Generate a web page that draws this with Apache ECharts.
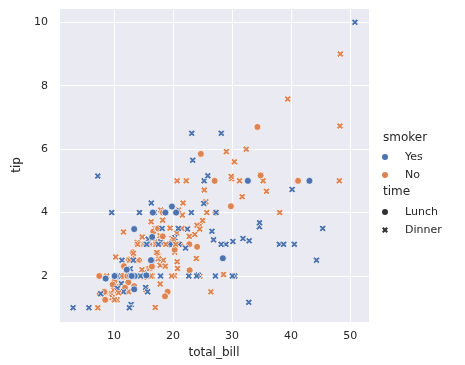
<!DOCTYPE html>
<html>
<head>
<meta charset="utf-8">
<script src="https://cdn.jsdelivr.net/npm/echarts@6/dist/echarts.min.js"></script>
<style>html,body{margin:0;padding:0;background:#fff;}#main{width:465px;height:365px;}</style>
</head>
<body>
<div id="main"></div>
<script>
const totalBill = [
16.99,10.34,21.01,23.68,24.59,25.29,8.77,26.88,15.04,14.78,
10.27,35.26,15.42,18.43,14.83,21.58,10.33,16.29,16.97,20.65,
17.92,20.29,15.77,39.42,19.82,17.81,13.37,12.69,21.70,19.65,
9.55,18.35,15.06,20.69,17.78,24.06,16.31,16.93,18.69,31.27,
16.04,17.46,13.94,9.68,30.40,18.29,22.23,32.40,28.55,18.04,
12.54,10.29,34.81,9.94,25.56,19.49,38.01,26.41,11.24,48.27,
20.29,13.81,11.02,18.29,17.59,20.08,16.45,3.07,20.23,15.01,
12.02,17.07,26.86,25.28,14.73,10.51,17.92,27.20,22.76,17.29,
19.44,16.66,10.07,32.68,15.98,34.83,13.03,18.28,24.71,21.16,
28.97,22.49,5.75,16.32,22.75,40.17,27.28,12.03,21.01,12.46,
11.35,15.38,44.30,22.42,20.92,15.36,20.49,25.21,18.24,14.31,
14.00,7.25,38.07,23.95,25.71,17.31,29.93,10.65,12.43,24.08,
11.69,13.42,14.26,15.95,12.48,29.80,8.52,14.52,11.38,22.82,
19.08,20.27,11.17,12.26,18.26,8.51,10.33,14.15,16.00,13.16,
17.47,34.30,41.19,27.05,16.43,8.35,18.64,11.87,9.78,7.51,
14.07,13.13,17.26,24.55,19.77,29.85,48.17,25.00,13.39,16.49,
21.50,12.66,16.21,13.81,17.51,24.52,20.76,31.71,10.59,10.63,
50.81,15.81,7.25,31.85,16.82,32.90,17.89,14.48,9.60,34.63,
34.65,23.33,45.35,23.17,40.55,20.69,20.90,30.46,18.15,23.10,
15.69,19.81,28.44,15.48,16.58,7.56,10.34,43.11,13.00,13.51,
18.71,12.74,13.00,16.40,20.53,16.47,26.59,38.73,24.27,12.76,
30.06,25.89,48.33,13.27,28.17,12.90,28.15,11.59,7.74,30.14,
12.16,13.42,8.58,15.98,13.42,16.27,10.09,20.45,13.28,22.12,
24.01,15.69,11.61,10.77,15.53,10.07,12.60,32.83,35.83,29.03,
27.18,22.67,17.82,18.78
];
const tip = [
1.01,1.66,3.50,3.31,3.61,4.71,2.00,3.12,1.96,3.23,
1.71,5.00,1.57,3.00,3.02,3.92,1.67,3.71,3.50,3.35,
4.08,2.75,2.23,7.58,3.18,2.34,2.00,2.00,4.30,3.00,
1.45,2.50,3.00,2.45,3.27,3.60,2.00,3.07,2.31,5.00,
2.24,2.54,3.06,1.32,5.60,3.00,5.00,6.00,2.05,3.00,
2.50,2.60,5.20,1.56,4.34,3.51,3.00,1.50,1.76,6.73,
3.21,2.00,1.98,3.76,2.64,3.15,2.47,1.00,2.01,2.09,
1.97,3.00,3.14,5.00,2.20,1.25,3.08,4.00,3.00,2.71,
3.00,3.40,1.83,5.00,2.03,5.17,2.00,4.00,5.85,3.00,
3.00,3.50,1.00,4.30,3.25,4.73,4.00,1.50,3.00,1.50,
2.50,3.00,2.50,3.48,4.08,1.64,4.06,4.29,3.76,4.00,
3.00,1.00,4.00,2.55,4.00,3.50,5.07,1.50,1.80,2.92,
2.31,1.68,2.50,2.00,2.52,4.20,1.48,2.00,2.00,2.18,
1.50,2.83,1.50,2.00,3.25,1.25,2.00,2.00,2.00,2.75,
3.50,6.70,5.00,5.00,2.30,1.50,1.36,1.63,1.73,2.00,
2.50,2.00,2.74,2.00,2.00,5.14,5.00,3.75,2.61,2.00,
3.50,2.50,2.00,2.00,3.00,3.48,2.24,4.50,1.61,2.00,
10.00,3.16,5.15,3.18,4.00,3.11,2.00,2.00,4.00,3.55,
3.68,5.65,3.50,6.50,3.00,5.00,3.50,2.00,3.50,4.00,
1.50,4.19,2.56,2.02,4.00,1.44,2.00,5.00,2.00,2.00,
4.00,2.01,2.00,2.50,4.00,3.23,3.41,3.00,2.03,2.23,
2.00,5.16,9.00,2.50,6.50,1.10,3.00,1.50,1.44,3.09,
2.20,3.48,1.92,3.00,1.58,2.50,2.00,3.00,2.72,2.88,
2.00,3.00,3.39,1.47,3.00,1.25,1.00,1.17,4.67,5.92,
2.00,2.00,1.75,3.00
];
const smoker = [
'No','No','No','No','No','No','No','No','No','No',
'No','No','No','No','No','No','No','No','No','No',
'No','No','No','No','No','No','No','No','No','No',
'No','No','No','No','No','No','No','No','No','No',
'No','No','No','No','No','No','No','No','No','No',
'No','No','No','No','No','No','Yes','No','Yes','No',
'Yes','Yes','Yes','Yes','No','No','No','Yes','No','Yes',
'No','No','Yes','Yes','No','No','Yes','No','No','No',
'Yes','No','No','Yes','No','No','No','No','No','No',
'Yes','No','Yes','Yes','No','Yes','Yes','Yes','Yes','No',
'Yes','Yes','Yes','Yes','No','Yes','Yes','Yes','No','Yes',
'No','No','No','No','No','No','No','No','No','No',
'No','No','No','No','No','No','No','No','No','No',
'No','No','No','No','No','No','No','No','Yes','No',
'No','No','No','No','No','No','No','No','No','No',
'No','No','No','No','No','No','No','No','No','No',
'No','No','No','No','Yes','No','No','No','Yes','Yes',
'Yes','Yes','Yes','Yes','Yes','Yes','Yes','Yes','Yes','Yes',
'Yes','Yes','Yes','Yes','Yes','No','Yes','Yes','Yes','Yes',
'Yes','Yes','Yes','Yes','Yes','No','Yes','Yes','Yes','Yes',
'Yes','Yes','Yes','Yes','Yes','Yes','Yes','Yes','Yes','Yes',
'Yes','Yes','No','Yes','Yes','Yes','Yes','Yes','Yes','Yes',
'Yes','Yes','Yes','No','Yes','Yes','Yes','No','No','Yes',
'Yes','Yes','No','No','Yes','No','Yes','Yes','No','No',
'Yes','Yes','No','No'
];
const time = [
'Dinner','Dinner','Dinner','Dinner','Dinner','Dinner','Dinner','Dinner','Dinner','Dinner',
'Dinner','Dinner','Dinner','Dinner','Dinner','Dinner','Dinner','Dinner','Dinner','Dinner',
'Dinner','Dinner','Dinner','Dinner','Dinner','Dinner','Dinner','Dinner','Dinner','Dinner',
'Dinner','Dinner','Dinner','Dinner','Dinner','Dinner','Dinner','Dinner','Dinner','Dinner',
'Dinner','Dinner','Dinner','Dinner','Dinner','Dinner','Dinner','Dinner','Dinner','Dinner',
'Dinner','Dinner','Dinner','Dinner','Dinner','Dinner','Dinner','Dinner','Dinner','Dinner',
'Dinner','Dinner','Dinner','Dinner','Dinner','Dinner','Dinner','Dinner','Dinner','Dinner',
'Dinner','Dinner','Dinner','Dinner','Dinner','Dinner','Dinner','Lunch','Lunch','Lunch',
'Lunch','Lunch','Lunch','Lunch','Lunch','Lunch','Lunch','Lunch','Lunch','Lunch',
'Dinner','Dinner','Dinner','Dinner','Dinner','Dinner','Dinner','Dinner','Dinner','Dinner',
'Dinner','Dinner','Dinner','Dinner','Dinner','Dinner','Dinner','Dinner','Dinner','Dinner',
'Dinner','Dinner','Dinner','Dinner','Dinner','Dinner','Dinner','Lunch','Lunch','Lunch',
'Lunch','Lunch','Lunch','Lunch','Lunch','Lunch','Lunch','Lunch','Lunch','Lunch',
'Lunch','Lunch','Lunch','Lunch','Lunch','Lunch','Lunch','Lunch','Lunch','Lunch',
'Lunch','Lunch','Lunch','Lunch','Lunch','Lunch','Lunch','Lunch','Lunch','Lunch',
'Dinner','Dinner','Dinner','Dinner','Dinner','Dinner','Dinner','Dinner','Dinner','Dinner',
'Dinner','Dinner','Dinner','Dinner','Dinner','Dinner','Dinner','Dinner','Dinner','Dinner',
'Dinner','Dinner','Dinner','Dinner','Dinner','Dinner','Dinner','Dinner','Dinner','Dinner',
'Dinner','Dinner','Dinner','Dinner','Dinner','Dinner','Dinner','Dinner','Dinner','Dinner',
'Dinner','Lunch','Lunch','Lunch','Lunch','Lunch','Lunch','Lunch','Lunch','Lunch',
'Lunch','Lunch','Lunch','Lunch','Lunch','Lunch','Dinner','Dinner','Dinner','Dinner',
'Dinner','Dinner','Dinner','Dinner','Dinner','Dinner','Dinner','Dinner','Dinner','Dinner',
'Lunch','Lunch','Lunch','Lunch','Lunch','Lunch','Lunch','Dinner','Dinner','Dinner',
'Dinner','Dinner','Dinner','Dinner','Dinner','Dinner','Dinner','Dinner','Dinner','Dinner',
'Dinner','Dinner','Dinner','Dinner'
];
const smokerLevels = ['Yes', 'No'];
const timeLevels = ['Lunch', 'Dinner'];
const xTicks = [10, 20, 30, 40, 50];
const yTicks = [2, 4, 6, 8, 10];

const COLORS = { Yes: '#4c72b0', No: '#dd8452' };
const X_PATH = 'path://M-1,-2L0,-1L1,-2L2,-1L1,0L2,1L1,2L0,1L-1,2L-2,1L-1,0L-2,-1Z';
const SYMBOLS = { Lunch: 'circle', Dinner: X_PATH };
const FONT = 'DejaVu Sans';
const TXT = '#262626';

const points = totalBill.map((x, i) => ({
  value: [x, tip[i]],
  symbol: SYMBOLS[time[i]],
  itemStyle: { color: COLORS[smoker[i]] }
}));

const xMin = 0.683, xMax = 53.197, yMin = 0.55, yMax = 10.45;

const chart = echarts.init(document.getElementById('main'), null, { renderer: 'canvas' });
const isTick = (arr) => (v) => arr.some(t => Math.abs(t - v) < 1e-6) ? String(v) : '';

const legendCommon = {
  orient: 'vertical',
  left: 377,
  itemWidth: 16,
  itemHeight: 6,
  itemGap: 0,
  selectedMode: false,
  textStyle: { fontFamily: FONT, fontSize: 11, color: TXT, lineHeight: 18, padding: [0, 0, 0, 7] }
};

chart.setOption({
  animation: false,
  backgroundColor: '#ffffff',
  textStyle: { fontFamily: FONT },
  grid: { left: 59, right: 96, top: 8, bottom: 43, show: true, backgroundColor: '#eaeaf2', borderWidth: 0 },
  xAxis: {
    type: 'value', min: xMin, max: xMax,
    splitNumber: 5,
    name: 'total_bill', nameLocation: 'middle', nameGap: 24,
    nameTextStyle: { fontFamily: FONT, fontSize: 12, color: TXT },
    axisLine: { show: false }, axisTick: { show: false },
    axisLabel: { formatter: isTick(xTicks), fontFamily: FONT, fontSize: 11, color: TXT, margin: 9 },
    splitLine: { show: true, lineStyle: { color: '#ffffff', width: 1 } }
  },
  yAxis: {
    type: 'value', min: yMin, max: yMax,
    splitNumber: 5,
    name: 'tip', nameLocation: 'middle', nameGap: 25,
    nameTextStyle: { fontFamily: FONT, fontSize: 12, color: TXT },
    axisLine: { show: false }, axisTick: { show: false },
    axisLabel: { formatter: isTick(yTicks), fontFamily: FONT, fontSize: 11, color: TXT, margin: 11 },
    splitLine: { show: true, lineStyle: { color: '#ffffff', width: 1 } }
  },
  legend: [
    Object.assign({}, legendCommon, {
      top: 143,
      data: smokerLevels.map(s => ({ name: s, icon: 'circle' }))
    }),
    Object.assign({}, legendCommon, {
      top: 198,
      data: timeLevels.map(t => ({ name: t, icon: SYMBOLS[t] }))
    })
  ],
  graphic: [
    { type: 'text', left: 383, top: 132, style: { text: 'smoker', fontFamily: FONT, fontSize: 12, fill: TXT } },
    { type: 'text', left: 383, top: 186, style: { text: 'time', fontFamily: FONT, fontSize: 12, fill: TXT } }
  ],
  series: [
    {
      type: 'scatter',
      name: 'tips',
      data: points,
      symbolSize: 7,
      itemStyle: { borderColor: '#ffffff', borderWidth: 0.75, opacity: 1 },
      emphasis: { disabled: true }
    }
  ].concat(
    smokerLevels.map(s => ({ type: 'scatter', name: s, data: [], itemStyle: { color: COLORS[s], opacity: 1 } })),
    timeLevels.map(t => ({ type: 'scatter', name: t, data: [], itemStyle: { color: '#333333', opacity: 1 } }))
  )
});
</script>
</body>
</html>
